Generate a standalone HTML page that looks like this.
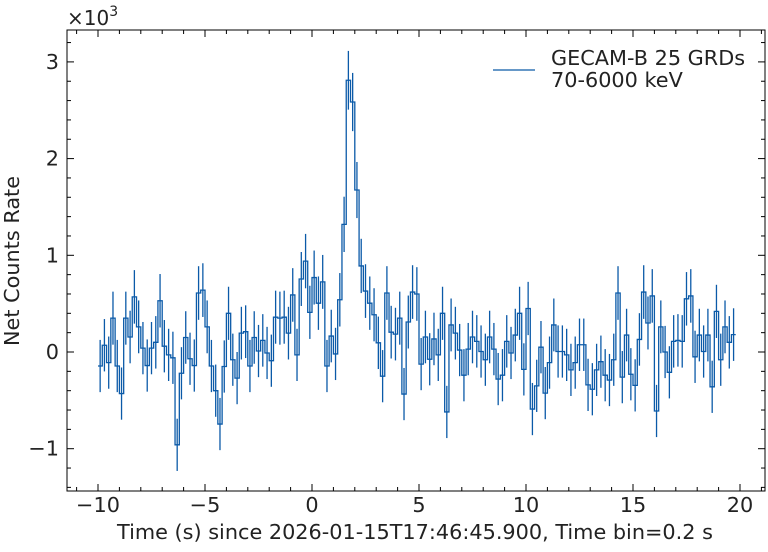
<!DOCTYPE html>
<html><head><meta charset="utf-8"><style>
body{margin:0;background:#fff;}
svg text{font-family:"DejaVu Sans","Liberation Sans",sans-serif;fill:#222;}
</style></head><body>
<svg id="s" width="768" height="547" xmlns="http://www.w3.org/2000/svg"></svg>
<script>
const V=[-145,70,-110,350,-145,-430,350,155,570,260,40,-140,40,100,530,60,-30,-60,-960,-220,150,-70,-140,610,640,260,-145,-400,-745,-150,400,-80,-270,195,210,-145,150,10,120,-10,-90,360,350,360,195,590,-30,755,940,410,770,
505,725,-145,165,-20,540,1320,2810,2585,1675,890,630,505,385,95,-250,610,205,185,350,-435,310,620,600,-125,155,-75,135,-30,400,-620,
280,195,20,-240,30,155,110,5,-80,155,30,-280,-240,110,-10,175,400,-180,450,-590,-350,50,-425,-110,280,5,5,-30,-185,-110,75,75,-340,-385,-185,-100,-240,-290,-80,610,-260,175,-230,-345,130,620,300,580,-610,260,0,-210,110,120,110,550,580,-50,175,5,175,-360,420,-80,260,100,180];
const L=67,R=765,T=30,B=491;
const X=t=>312+t*21.4, Y=v=>352-v*0.0967;
let s='';
let d='';
V.forEach((v,i)=>{const x0=X(-10+i*0.2),x1=X(-10+(i+1)*0.2),y=Y(v);
 d+=(i==0?`M${x0},${y}`:`V${y}`)+`H${x1}`;});
s+=`<path d="${d}" fill="none" stroke="#0b5aa8" stroke-width="1.3"/>`;
V.forEach((v,i)=>{const xc=X(-10+i*0.2+0.1),e=270+0.012*Math.max(v,0);
 s+=`<line x1="${xc}" x2="${xc}" y1="${Y(v-e)}" y2="${Y(v+e)}" stroke="#0b5aa8" stroke-width="1.3"/>`;});
s+=`<rect x="${L}" y="${T}" width="${R-L}" height="${B-T}" fill="none" stroke="#000" stroke-width="1"/>`;
for(let t=-11;t<=21;t++){const x=X(t);if(x<L||x>R)continue;const m=t%5==0,l=m?7:4;
 s+=`<line x1="${x}" x2="${x}" y1="${B}" y2="${B-l}" stroke="#000"/><line x1="${x}" x2="${x}" y1="${T}" y2="${T+l}" stroke="#000"/>`;
 if(m)s+=`<text x="${x}" y="${B+21}" font-size="20.8" text-anchor="middle">${t<0?'−'+(-t):t}</text>`;}
for(let v=-1400;v<=3400;v+=200){const y=Y(v);if(y<T||y>B)continue;const m=v%1000==0,l=m?7:4;
 s+=`<line x1="${L}" x2="${L+l}" y1="${y}" y2="${y}" stroke="#000"/><line x1="${R}" x2="${R-l}" y1="${y}" y2="${y}" stroke="#000"/>`;
 if(m){const n=v/1000;s+=`<text x="59" y="${y+7}" font-size="20.8" text-anchor="end">${n<0?'−'+(-n):n}</text>`;}}
s+=`<text x="67" y="25" font-size="20">×10<tspan font-size="14" dy="-9">3</tspan></text>`;
s+=`<text x="415" y="539" font-size="20.8" text-anchor="middle">Time (s) since 2026-01-15T17:46:45.900, Time bin=0.2 s</text>`;
s+=`<text transform="translate(19,261) rotate(-90)" font-size="20.8" text-anchor="middle">Net Counts Rate</text>`;
s+=`<line x1="493" x2="535" y1="70" y2="70" stroke="#0b5aa8" stroke-width="1.3"/>`;
s+=`<text x="551" y="65" font-size="20.8">GECAM-B 25 GRDs</text><text x="551" y="87" font-size="20.8">70-6000 keV</text>`;
document.getElementById('s').innerHTML=s;
</script>
</body></html>
